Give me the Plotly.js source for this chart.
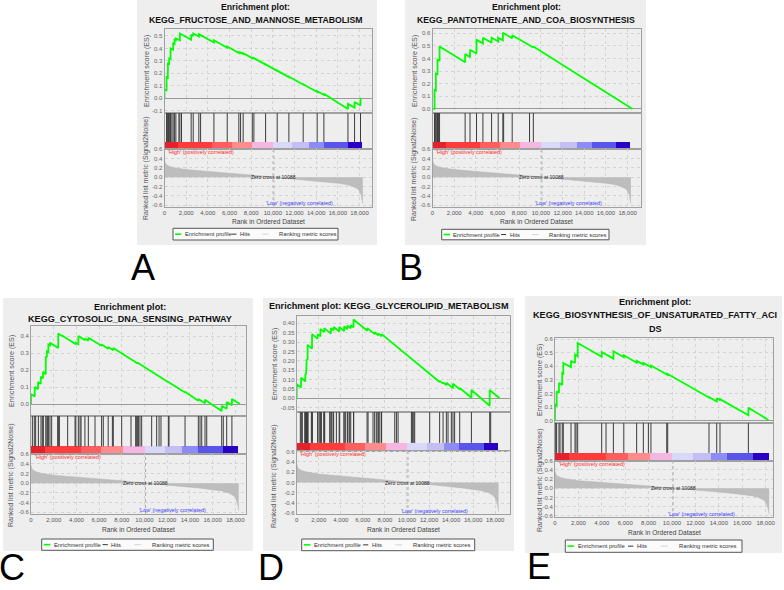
<!DOCTYPE html>
<html><head><meta charset="utf-8">
<script src="https://cdn.plot.ly/plotly-3.0.1.min.js"></script>
<style>html,body{margin:0;padding:0;background:#fff;}#chart{width:784px;height:590px;}</style>
</head><body><div id="chart"></div>
<script>
// ================= DATA =================
const zeroCross = 10088;
const rankTicks = [0,2000,4000,6000,8000,10000,12000,14000,16000,18000];
const metricTicks = [-0.6,-0.4,-0.2,0,0.2,0.4,0.6];
const legendLabels = ['Enrichment profile','Hits','Ranking metric scores'];
const highLabel = "'High' (positively correlated)";
const lowLabel = "'Low' (negatively correlated)";
const zeroLabel = 'Zero cross at 10088';
const esAxisTitle = 'Enrichment score (ES)';
const metricAxisTitle = 'Ranked list metric (Signal2Noise)';
const rankAxisTitle = 'Rank in Ordered Dataset';

// ranked list metric (shared ranked list)
const metricRank = [0,30,100,250,500,900,1300,2000,3000,4000,5000,6000,7000,8000,9000,10088,11000,12000,13000,14000,15000,16000,16800,17400,17800,18000,18150,18250,18300];
const metricValue = [0.37,0.33,0.29,0.26,0.23,0.205,0.19,0.165,0.145,0.128,0.11,0.093,0.075,0.05,0.027,0,-0.02,-0.04,-0.06,-0.082,-0.105,-0.13,-0.16,-0.2,-0.25,-0.3,-0.38,-0.48,-0.57];

// colour band (rank edges)
const bandEdges = [0,1200,4400,6200,8100,10000,11800,13330,14700,16950,18250];

// Panel A
const titleA = ['Enrichment plot:','KEGG_FRUCTOSE_AND_MANNOSE_METABOLISM'];
const esRankA = [0,0,190,190,310,310,430,430,560,560,800,800,930,930,1050,1050,1420,1420,2460,2460,2650,2650,3170,3170,4560,4560,5790,5790,6860,6860,7020,7020,7260,7260,8100,8100,8250,8250,9330,9330,10400,10400,11480,11480,12800,12800,14090,14090,14710,14710,16930,16930,17540,17540,18090,18090];
const esScoreA = [0,0.07,0.065,0.17,0.165,0.28,0.275,0.32,0.315,0.40,0.39,0.44,0.435,0.47,0.465,0.48,0.465,0.52,0.47,0.51,0.50,0.52,0.495,0.515,0.448,0.465,0.405,0.415,0.363,0.37,0.363,0.368,0.357,0.362,0.322,0.328,0.32,0.323,0.27,0.272,0.22,0.222,0.17,0.173,0.11,0.113,0.05,0.056,0.028,0.036,-0.085,-0.045,-0.075,-0.03,-0.058,0.005];
const hitsA = [190,250,310,380,430,500,560,680,800,930,1050,1330,1420,1570,2460,2650,3170,3330,4560,5790,6860,7020,7260,8100,8250,9330,10400,11480,12800,14090,14710,16930,17540,18090];
const esTicksA = [-0.1,0,0.1,0.2,0.3,0.4,0.5];

// Panel B
const titleB = ['Enrichment plot:','KEGG_PANTOTHENATE_AND_COA_BIOSYNTHESIS'];
const esRankB = [0,190,190,310,310,460,460,650,650,3010,3010,3460,3460,4060,4060,4650,4650,5450,5450,6060,6060,6490,6490,7350,7350,8950,8950,9300,9300,18450];
const esScoreB = [0,0,0.15,0.145,0.28,0.275,0.39,0.385,0.495,0.37,0.435,0.41,0.47,0.44,0.548,0.52,0.565,0.525,0.565,0.535,0.565,0.545,0.605,0.56,0.585,0.50,0.505,0.488,0.495,0];
const hitsB = [190,250,310,400,460,560,650,3010,3460,4060,4650,5450,6060,6490,6560,7350,8950,9300];
const esTicksB = [0,0.1,0.2,0.3,0.4,0.5,0.6];

// Panel C
const titleC = ['Enrichment plot:','KEGG_CYTOSOLIC_DNA_SENSING_PATHWAY'];
const esRankC = [0,0,330,330,620,620,860,860,1060,1060,1300,1300,1400,1400,1530,1530,1670,1670,2400,2400,2700,2700,3950,3950,4170,4170,4750,4750,5050,5050,6220,6220,6800,6800,7250,7250,9400,9400,12100,12100,13570,13570,14740,14740,15330,15330,16800,16800,17240,17240,17700,17700,18410];
const esScoreC = [0,0.06,0.045,0.10,0.088,0.13,0.12,0.16,0.152,0.19,0.175,0.28,0.275,0.31,0.305,0.35,0.345,0.36,0.33,0.415,0.402,0.405,0.352,0.36,0.352,0.40,0.376,0.385,0.372,0.39,0.343,0.35,0.325,0.335,0.316,0.33,0.238,0.243,0.128,0.13,0.068,0.072,0.02,0.03,0.005,0.025,-0.04,-0.01,-0.028,0.012,-0.007,0.03,0];
const hitsC = [120,290,410,650,880,1000,1090,1300,1400,1470,1530,1670,1820,2350,2410,2500,3230,3880,3950,4170,4320,4410,4750,5050,5640,6220,6370,6800,7170,7250,7990,8810,9220,9310,9400,9460,9600,9750,10630,11070,11280,11450,12100,12160,13570,14740,14890,15040,15330,15480,16800,16940,17240,17700];
const esTicksC = [0,0.1,0.2,0.3,0.4];

// Panel D
const titleD = ['Enrichment plot: KEGG_GLYCEROLIPID_METABOLISM'];
const esRankD = [0,0,390,390,780,780,850,850,910,910,990,990,1390,1390,1900,1900,2150,2150,2500,2500,3100,3100,3350,3350,3850,3850,4300,4300,4600,4600,4900,4900,5150,5150,6400,6400,7070,7070,7400,7400,7700,7700,12960,12960,13270,13270,13570,13570,14170,14170,14780,14780,15840,15840,17500,17500,18400];
const esScoreD = [0,0.075,0.057,0.11,0.09,0.13,0.127,0.17,0.167,0.21,0.206,0.285,0.265,0.342,0.317,0.342,0.33,0.37,0.353,0.374,0.345,0.374,0.362,0.38,0.356,0.38,0.358,0.383,0.368,0.388,0.373,0.39,0.378,0.42,0.36,0.374,0.342,0.352,0.336,0.346,0.331,0.342,0.087,0.093,0.078,0.084,0.07,0.083,0.054,0.078,0.048,0.055,0.003,0.044,-0.04,0.044,0.0];
const hitsD = [330,420,510,730,780,820,850,880,910,940,990,1030,1330,1390,1420,1900,1930,2090,2150,2240,2450,2500,2540,2990,3100,3140,3290,3350,3600,3850,3900,4290,4300,4440,4600,4650,4800,4900,5150,5170,6380,6470,6920,7070,7220,7370,7400,7530,7680,7700,8890,9040,9190,10400,10490,10610,10700,12060,12960,13270,13570,13720,14020,14170,14320,14780,15840,17500,17590];
const esTicksD = [-0.05,0,0.05,0.1,0.15,0.2,0.25,0.3,0.35,0.4];

// Panel E
const titleE = ['Enrichment plot:','KEGG_BIOSYNTHESIS_OF_UNSATURATED_FATTY_ACI','DS'];
const esRankE = [0,0,140,140,340,340,620,620,710,710,1370,1370,1710,1710,1940,1940,3990,3990,4990,4990,5880,5880,6980,6980,7550,7550,8200,8200,9590,9590,13160,13160,13820,13820,14100,14100,16525,16525,18234];
const esScoreE = [0,0.118,0.112,0.215,0.205,0.277,0.263,0.35,0.346,0.424,0.392,0.44,0.423,0.485,0.474,0.57,0.47,0.505,0.456,0.51,0.466,0.48,0.426,0.44,0.412,0.425,0.393,0.405,0.337,0.345,0.17,0.173,0.141,0.165,0.151,0.158,0.04,0.095,0.005];
const hitsE = [60,140,340,430,620,710,1370,1710,1800,1940,3990,4360,4990,5880,6980,7550,7980,8200,9550,9630,13160,13820,14100,16525];
const esTicksE = [0,0.1,0.2,0.3,0.4,0.5,0.6];

// ================= STYLE / GEOMETRY =================
const W = 784, H = 590;
const FONT = 'Liberation Sans, Arial, sans-serif';
const GRID = '#d4d4d4', BORDER = '#a0a0a0';
const bandColors = ['#e5222c','#ff3c3c','#ff5e5e','#ff8b8b','#f6b6e2','#d8d8fa','#c5bef4','#8d8cf7','#5955ea','#2800c6'];
const geo = {
  A:{bg:[137,0,377,245], x:[164.5,372], xMax:19150, es:[29,113], esRange:[-0.118,0.556], hits:[113,149.3], rank:[149.3,206.5], rankRange:[-0.632,0.602],
     titleX:256, titleY:[7.5,20], titleSize:8.7, yTitleX:146, esTitleY:71, rankTitleY:169, xTitleY:221, legend:[173,228.3,338,240], letter:[143,268], esDigits:1},
  B:{bg:[405,0,646,245], x:[432.5,641], xMax:19230, es:[29,113], esRange:[-0.032,0.634], hits:[113,149.3], rank:[149.3,206.5], rankRange:[-0.632,0.602],
     titleX:526, titleY:[7.5,20.5], titleSize:8.7, yTitleX:414, esTitleY:71, rankTitleY:169, xTitleY:221.5, legend:[441.7,229.3,609,239.8], letter:[411,268], esDigits:1},
  C:{bg:[3,298,253,551], x:[31,246], xMax:18940, es:[326,416], esRange:[-0.07,0.459], hits:[416,454], rank:[454,514], rankRange:[-0.635,0.602],
     titleX:130, titleY:[306.7,319.3], titleSize:9.1, yTitleX:11, esTitleY:371, rankTitleY:476, xTitleY:529, legend:[41.7,539,213.3,550.3], letter:[12,567], esDigits:1},
  D:{bg:[263,298,514,551], x:[296.7,510], xMax:19340, es:[315.7,411.7], esRange:[-0.0715,0.4405], hits:[411.7,450.7], rank:[450.7,514], rankRange:[-0.614,0.62],
     titleX:389, titleY:[306], titleSize:9.1, yTitleX:274, esTitleY:364, rankTitleY:477, xTitleY:529, legend:[301.7,539,474.7,550.7], letter:[271,567], esDigits:2},
  E:{bg:[525,296,782,553], x:[555,773], xMax:18630, es:[337.5,422.7], esRange:[-0.015,0.611], hits:[422.7,460.5], rank:[460.5,517], rankRange:[-0.622,0.602],
     titleX:655, titleY:[301.7,314.5,329.3], titleSize:9.1, yTitleX:540, esTitleY:380, rankTitleY:481, xTitleY:532, legend:[565.3,540,742,552.3], letter:[539,566], esDigits:1}
};
const panels = [
  {key:'A', title:titleA, esRank:esRankA, esScore:esScoreA, hits:hitsA, esTicks:esTicksA},
  {key:'B', title:titleB, esRank:esRankB, esScore:esScoreB, hits:hitsB, esTicks:esTicksB},
  {key:'C', title:titleC, esRank:esRankC, esScore:esScoreC, hits:hitsC, esTicks:esTicksC},
  {key:'D', title:titleD, esRank:esRankD, esScore:esScoreD, hits:hitsD, esTicks:esTicksD},
  {key:'E', title:titleE, esRank:esRankE, esScore:esScoreE, hits:hitsE, esTicks:esTicksE}
];
const CB = 0.2; // colour band share of hits strip

// ================= BUILD =================
const px = v => v / W, py = v => 1 - v / H;
const xr = n => n === 1 ? 'x' : 'x' + n, yr = n => n === 1 ? 'y' : 'y' + n;
const xk = n => n === 1 ? 'xaxis' : 'xaxis' + n, yk = n => n === 1 ? 'yaxis' : 'yaxis' + n;
const rankTickText = rankTicks.map(v => v.toString().replace(/\B(?=(\d{3})+(?!\d))/g, ','));
const traces = [], shapes = [], annotations = [];
const layout = {width:W, height:H, margin:{l:0,r:0,t:0,b:0}, paper_bgcolor:'#ffffff', plot_bgcolor:'#ffffff',
  showlegend:false, hovermode:false, bargap:0, shapes, annotations};

function txt(x, y, text, size, color, opts) {
  annotations.push(Object.assign({xref:'paper', yref:'paper', x:px(x), y:py(y), text, showarrow:false,
    xanchor:'center', yanchor:'middle', font:{family:FONT, size, color}}, opts || {}));
}
function xAxis(g, n, labels, grid) {
  return {domain:[px(g.x[0]), px(g.x[1])], range:[0, g.xMax], anchor:yr(n), tickmode:'array', tickvals:rankTicks,
    ticktext:rankTickText, showticklabels:labels, tickfont:{family:FONT, size:6, color:'#555'}, ticks:'',
    showgrid:grid, gridcolor:GRID, griddash:'dot', gridwidth:1, zeroline:false, showline:true, mirror:true,
    linecolor:BORDER, linewidth:1, fixedrange:true};
}
function yAxis(n, dom, range, ticks, digits, grid, zl) {
  const o = {domain:[py(dom[1]), py(dom[0])], range, anchor:xr(n), showgrid:grid, gridcolor:GRID, griddash:'dot',
    gridwidth:1, zeroline:zl, zerolinecolor:'#9a9a9a', zerolinewidth:1, showline:true, mirror:true,
    linecolor:BORDER, linewidth:1, ticks:'', fixedrange:true, tickfont:{family:FONT, size:6, color:'#666'}};
  if (ticks) { o.tickmode = 'array'; o.tickvals = ticks; o.ticktext = ticks.map(v => v.toFixed(digits)); }
  else { o.showticklabels = false; }
  return o;
}

panels.forEach((p, i) => {
  const g = geo[p.key];
  const nE = 3 * i + 1, nH = 3 * i + 2, nR = 3 * i + 3;
  shapes.push({type:'rect', xref:'paper', yref:'paper', x0:px(g.bg[0]), x1:px(g.bg[2]), y0:py(g.bg[3]), y1:py(g.bg[1]),
    fillcolor:'#eeeeee', line:{width:0}, layer:'below'});
  layout[xk(nE)] = xAxis(g, nE, false, true);
  layout[yk(nE)] = yAxis(nE, g.es, g.esRange, p.esTicks, g.esDigits, true, true);
  layout[xk(nH)] = xAxis(g, nH, false, false);
  layout[yk(nH)] = yAxis(nH, g.hits, [0, 1], null, 1, false, false);
  layout[xk(nR)] = xAxis(g, nR, true, true);
  layout[yk(nR)] = yAxis(nR, g.rank, g.rankRange, metricTicks, 1, true, false);

  traces.push({type:'scatter', mode:'lines', x:metricRank, y:metricValue, fill:'tozeroy', fillcolor:'#bdbdbd',
    line:{color:'#b4b4b4', width:0.5}, xaxis:xr(nR), yaxis:yr(nR), hoverinfo:'skip'});
  const hx = [], hy = [];
  p.hits.forEach(h => { hx.push(h, h, null); hy.push(CB, 1, null); });
  traces.push({type:'scatter', mode:'lines', x:hx, y:hy, line:{color:'#3c3c3c', width:1}, xaxis:xr(nH), yaxis:yr(nH), hoverinfo:'skip'});
  const bx = [], bw = [], by = [];
  for (let k = 0; k < bandEdges.length - 1; k++) {
    bx.push((bandEdges[k] + bandEdges[k + 1]) / 2); bw.push(bandEdges[k + 1] - bandEdges[k]); by.push(CB);
  }
  traces.push({type:'bar', x:bx, y:by, width:bw, base:0, marker:{color:bandColors, line:{width:0}},
    xaxis:xr(nH), yaxis:yr(nH), hoverinfo:'skip'});
  traces.push({type:'scatter', mode:'lines', x:p.esRank, y:p.esScore, line:{color:'#00ff00', width:1.8},
    xaxis:xr(nE), yaxis:yr(nE), hoverinfo:'skip'});

  shapes.push({type:'line', xref:xr(nR), yref:yr(nR) + ' domain', x0:zeroCross, x1:zeroCross, y0:0, y1:1,
    line:{color:'#aaaaaa', width:1, dash:'dot'}, layer:'above'});

  p.title.forEach((t, k) => txt(g.titleX, g.titleY[k], '<b>' + t + '</b>', g.titleSize, '#111'));
  txt(g.yTitleX, g.esTitleY, esAxisTitle, 7.2, '#555', {textangle:-90});
  txt(g.yTitleX, g.rankTitleY, metricAxisTitle, 7, '#555', {textangle:-90});
  txt((g.x[0] + g.x[1]) / 2, g.xTitleY, rankAxisTitle, 6.6, '#444');
  txt(g.x[0] + 1.5, g.rank[0] + 3, highLabel, 5.4, '#ff2a2a', {xanchor:'left'});
  annotations.push({xref:xr(nR), yref:yr(nR), x:zeroCross, y:0, text:zeroLabel, showarrow:false,
    xanchor:'center', yanchor:'middle', font:{family:FONT, size:5, color:'#222'}});
  annotations.push({xref:xr(nR), yref:yr(nR), x:12500, y:-0.55, text:lowLabel, showarrow:false,
    xanchor:'center', yanchor:'middle', font:{family:FONT, size:5.4, color:'#4040ff'}});

  const [lx0, ly0, lx1, ly1] = g.legend, lw = lx1 - lx0, lyc = (ly0 + ly1) / 2;
  shapes.push({type:'rect', xref:'paper', yref:'paper', x0:px(lx0), x1:px(lx1), y0:py(ly1), y1:py(ly0),
    fillcolor:'#fbfbfb', line:{color:'#555555', width:1}});
  const seg = (a, b, color, w) => shapes.push({type:'line', xref:'paper', yref:'paper', x0:px(lx0 + a * lw), x1:px(lx0 + b * lw),
    y0:py(lyc), y1:py(lyc), line:{color, width:w}});
  seg(0.012, 0.05, '#00ff00', 1.6);
  seg(0.355, 0.385, '#333333', 1);
  seg(0.54, 0.58, '#d4d4d4', 1);
  txt(lx0 + 0.058 * lw, lyc, legendLabels[0], 5.8, '#333', {xanchor:'left'});
  txt(lx0 + 0.395 * lw, lyc, legendLabels[1], 5.8, '#333', {xanchor:'left'});
  txt(lx0 + 0.63 * lw, lyc, legendLabels[2], 5.8, '#333', {xanchor:'left'});

  txt(g.letter[0], g.letter[1], p.key, 36, '#000');
});

Plotly.newPlot('chart', traces, layout, {staticPlot:true, displayModeBar:false});
</script>
</body></html>
